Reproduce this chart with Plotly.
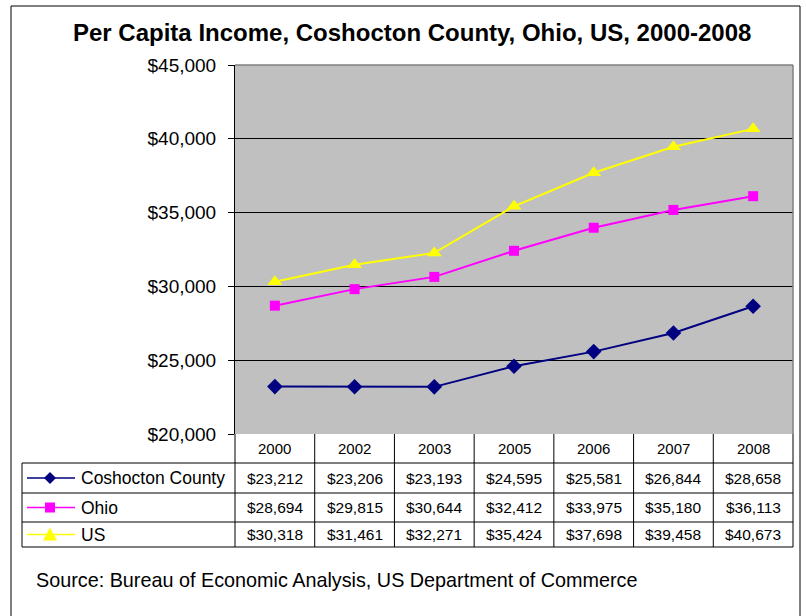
import plotly.graph_objects as go

years = ["2000", "2002", "2003", "2005", "2006", "2007", "2008"]
coshocton = [23212, 23206, 23193, 24595, 25581, 26844, 28658]
ohio = [28694, 29815, 30644, 32412, 33975, 35180, 36113]
us = [30318, 31461, 32271, 35424, 37698, 39458, 40673]
series_names = ["Coshocton County", "Ohio", "US"]
y_ticks = [20000, 25000, 30000, 35000, 40000, 45000]

W, H = 806, 616
FONT = "Liberation Sans, Arial, sans-serif"

def px(x):
    return x / W

def py(y):
    return 1 - y / H

# pixel layout
PL, PR, PT, PB = 235, 793, 65, 434
TL = 22
rows = [434, 463, 493, 522, 547]

series = [
    (coshocton, "#000080", "diamond", 12),
    (ohio, "#FF00FF", "square", 10),
    (us, "#FFFF00", "triangle-up", 13),
]

fig = go.Figure()
for (vals, col, sym, sz), name in zip(series, series_names):
    fig.add_trace(go.Scatter(
        x=list(range(len(years))), y=vals, mode="lines+markers", name=name,
        line=dict(color=col, width=2),
        marker=dict(color=col, symbol=sym, size=sz, line=dict(width=0)),
        showlegend=False, cliponaxis=False,
    ))

shapes = []
def line(x0, y0, x1, y1, color="black", width=1):
    shapes.append(dict(type="line", xref="paper", yref="paper",
                       x0=px(x0), y0=py(y0), x1=px(x1), y1=py(y1),
                       line=dict(color=color, width=width)))

def glyph(sym, cx, cy, col):
    if sym == "diamond":
        pts = [(cx, cy - 6), (cx + 6, cy), (cx, cy + 6), (cx - 6, cy)]
    elif sym == "square":
        pts = [(cx - 5, cy - 5), (cx + 5, cy - 5), (cx + 5, cy + 5), (cx - 5, cy + 5)]
    else:
        pts = [(cx, cy - 7), (cx + 7, cy + 6), (cx - 7, cy + 6)]
    path = "M " + " L ".join("{:.5f},{:.5f}".format(px(a), py(b)) for a, b in pts) + " Z"
    shapes.append(dict(type="path", xref="paper", yref="paper", path=path,
                       fillcolor=col, line=dict(width=0)))

# outer border
line(11, 6, 11, 616)
line(11, 6, 800, 6)
line(800, 6, 800, 616)
# plot top/right border gray
line(PL, PT, PR, PT, "#808080", 1.5)
line(PR, PT, PR, PB, "#808080", 1.5)
# table
ncol = len(years)
cw = (PR - PL) / ncol
for j in range(ncol + 1):
    line(PL + j * cw, PB, PL + j * cw, rows[-1])
line(TL, rows[1], TL, rows[-1])
for r in rows[1:]:
    line(TL, r, PR, r)
# legend glyphs in table
for i, (vals, col, sym, sz) in enumerate(series):
    yc = (rows[i + 1] + rows[i + 2]) / 2
    line(27, yc, 75, yc, col, 1.5)
    glyph(sym, 50, yc, col)

annotations = []
def text(t, x, y, size, xanchor="center", bold=False):
    annotations.append(dict(text=("<b>%s</b>" % t) if bold else t,
                            xref="paper", yref="paper", x=px(x), y=py(y),
                            showarrow=False, xanchor=xanchor, yanchor="middle",
                            font=dict(size=size, color="black", family=FONT)))

text("Per Capita Income, Coshocton County, Ohio, US, 2000-2008", 412, 32, 24, bold=True)
for j, yr in enumerate(years):
    cx = PL + (j + 0.5) * cw
    text(yr, cx, (rows[0] + rows[1]) / 2, 15)
    for i, vals in enumerate([coshocton, ohio, us]):
        text("${:,}".format(vals[j]), cx, (rows[i + 1] + rows[i + 2]) / 2, 15.5)
for i, name in enumerate(series_names):
    text(name, 79, (rows[i + 1] + rows[i + 2]) / 2, 17.5, xanchor="left")
text("Source: Bureau of Economic Analysis, US Department of Commerce", 34, 580, 19.8,
     xanchor="left")

fig.update_layout(
    width=W, height=H, margin=dict(l=0, r=0, t=0, b=0, pad=0, autoexpand=False),
    paper_bgcolor="white", plot_bgcolor="#C0C0C0",
    font=dict(family=FONT, color="black"),
    xaxis=dict(domain=[px(PL), px(PR)], range=[-0.5, ncol - 0.5], showticklabels=False,
               showgrid=False, zeroline=False, ticks="", showline=False, fixedrange=True),
    yaxis=dict(domain=[py(PB), py(PT)], range=[20000, 45000], tickvals=y_ticks,
               ticktext=["${:,}".format(v) for v in y_ticks],
               showgrid=True, gridcolor="black", gridwidth=1, zeroline=False,
               showline=True, linecolor="black", linewidth=1,
               ticks="outside", ticklen=6, tickcolor="black",
               tickfont=dict(size=19, family=FONT), ticklabelstandoff=8, fixedrange=True),
    shapes=shapes, annotations=annotations,
)
fig.write_html("out.html", config={"displayModeBar": False},
               post_script="document.body.style.margin='0';document.body.style.overflow='hidden';")
